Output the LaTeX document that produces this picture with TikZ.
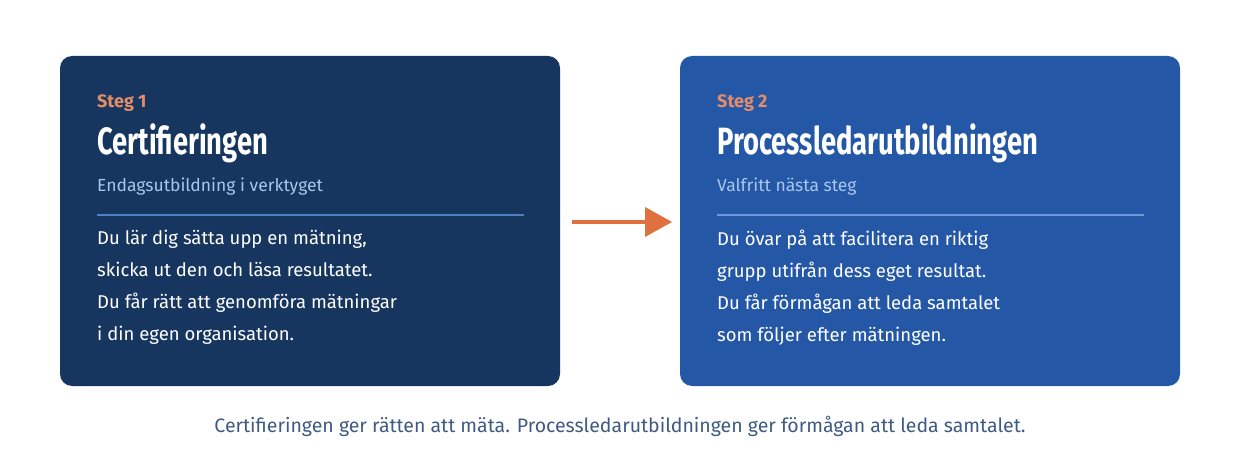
\documentclass[tikz,border=0pt]{standalone}
\usepackage{fontspec}
\setmainfont{Fira Sans}
\usepackage{graphicx}
\definecolor{navy}{HTML}{17365F}
\definecolor{blue2}{HTML}{2458A6}
\definecolor{steg}{HTML}{E58C68}
\definecolor{sub}{HTML}{A9C6EA}
\definecolor{rule1}{HTML}{4F7FC4}
\definecolor{rule2}{HTML}{6A98D8}
\definecolor{cap}{HTML}{3F5B82}
\definecolor{arr}{HTML}{E0703F}
\begin{document}
\begin{tikzpicture}[x=1pt,y=-1pt,
  box/.style={rounded corners=12pt},
  stp/.style={anchor=base west,inner sep=0,text=steg,font=\fontsize{18}{20}\selectfont\bfseries},
  ttl/.style={anchor=base west,inner sep=0,text=white,font=\fontsize{38}{40}\selectfont\bfseries},
  sbt/.style={anchor=base west,inner sep=0,text=sub,font=\fontsize{17.5}{20}\selectfont},
  bdy/.style={anchor=north west,inner sep=0,text=white,align=left,font=\fontsize{18.5}{32}\selectfont}]
\useasboundingbox (0,0) rectangle (1240,468);
\fill[white] (0,0) rectangle (1240,468);
\fill[navy,box] (60,56) rectangle (560,386) node[pos=0,inner sep=0] (b1) {};
\fill[blue2,box] (680,56) rectangle (1180,386) node[pos=0,inner sep=0] (b2) {};
\node[stp] (s1) at (97,108) {Steg 1};
\node[ttl] (t1) at (97,155) {\scalebox{0.72}[1]{Certifieringen}};
\node[sbt] (u1) at (97,192) {Endagsutbildning i verktyget};
\draw[rule1,line width=1.5pt] (97,215) -- (524,215);
\node[bdy] (d1) at (97,230) {Du lär dig sätta upp en mätning,\\skicka ut den och läsa resultatet.\\Du får rätt att genomföra mätningar\\i din egen organisation.};
\node[stp] (s2) at (717,108) {Steg 2};
\node[ttl] (t2) at (717,155) {\scalebox{0.72}[1]{Processledarutbildningen}};
\node[sbt] (u2) at (717,192) {Valfritt nästa steg};
\draw[rule2,line width=1.5pt] (717,215) -- (1144,215);
\node[bdy] (d2) at (717,230) {Du övar på att facilitera en riktig\\grupp utifrån dess eget resultat.\\Du får förmågan att leda samtalet\\som följer efter mätningen.};
\coordinate (a1) at (572,222);
\coordinate (a2) at (672,222);
\fill[arr] (645,207) -- (672,222) -- (645,237) -- cycle;
\draw[arr,line width=4pt] (a1) -- (647,222);
\node[text=cap,font=\fontsize{19.5}{22}\selectfont,inner sep=0] (c) at (620,426) {Certifieringen ger rätten att mäta. Processledarutbildningen ger förmågan att leda samtalet.};
\end{tikzpicture}
\end{document}
